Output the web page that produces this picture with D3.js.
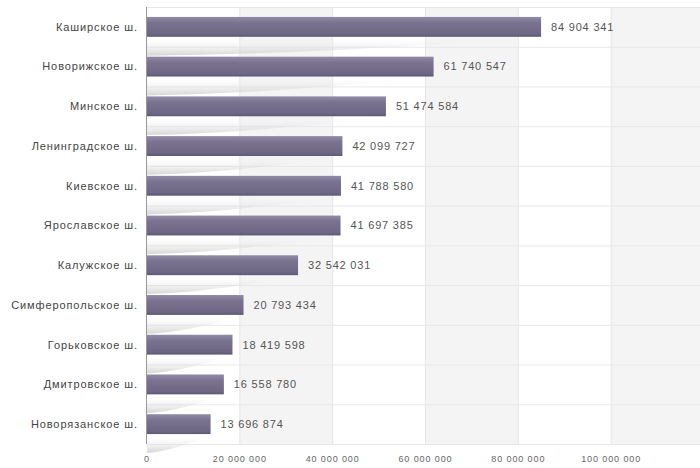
<!DOCTYPE html>
<html>
<head>
<meta charset="utf-8">
<script src="https://cdn.jsdelivr.net/npm/d3@7"></script>
<style>
  body { margin: 0; background: #fff; }
  svg { display: block; font-family: "Liberation Sans", Arial, sans-serif; }
</style>
</head>
<body>
<div id="plot"></div>
<script>
const categories = ["Каширское ш.", "Новорижское ш.", "Минское ш.", "Ленинградское ш.", "Киевское ш.",
  "Ярославское ш.", "Калужское ш.", "Симферопольское ш.", "Горьковское ш.", "Дмитровское ш.", "Новорязанское ш."];
const values = [84904341, 61740547, 51474584, 42099727, 41788580, 41697385, 32542031, 20793434, 18419598, 16558780, 13696874];
const ticks = [0, 20000000, 40000000, 60000000, 80000000, 100000000];

const w = 700, h = 468;
const margin = {top: 7, left: 147, bottom: 24};
const fmt = d3.formatLocale({decimal: ",", thousands: " ", grouping: [3], currency: ["", ""]}).format(",d");

const x = d3.scaleLinear().domain([0, 120000000]).range([margin.left, margin.left + 557]);
const y = d3.scaleBand().domain(categories).range([margin.top, h - margin.bottom]).paddingInner(0.5).paddingOuter(0.25);
const rows = d3.scaleBand().domain(categories).range([margin.top, h - margin.bottom]);

const svg = d3.select("#plot").append("svg").attr("width", w).attr("height", h);
const defs = svg.append("defs");

const barGrad = defs.append("linearGradient").attr("id", "bar").attr("x1", 0).attr("x2", 0).attr("y1", 0).attr("y2", 1);
barGrad.append("stop").attr("offset", "0%").attr("stop-color", "#908ba6");
barGrad.append("stop").attr("offset", "30%").attr("stop-color", "#79738f");
barGrad.append("stop").attr("offset", "85%").attr("stop-color", "#6e6886");
barGrad.append("stop").attr("offset", "100%").attr("stop-color", "#5c5772");

const shGrad = defs.append("linearGradient").attr("id", "shadow").attr("x1", 0).attr("x2", 0).attr("y1", 0).attr("y2", 1);
shGrad.append("stop").attr("offset", "0%").attr("stop-color", "#ffffff").attr("stop-opacity", 0);
shGrad.append("stop").attr("offset", "100%").attr("stop-color", "#c4c4c4").attr("stop-opacity", 0.7);

const plotBottom = h - margin.bottom;

// alternating column bands
svg.append("g").selectAll("rect")
  .data(ticks.map((t, i) => i).filter(i => i % 2 == 1))
  .enter().append("rect")
  .attr("x", i => x(ticks[i]))
  .attr("y", margin.top)
  .attr("width", x(20000000) - x(0))
  .attr("height", plotBottom - margin.top)
  .attr("fill", "#f4f4f4");

// vertical grid
svg.append("g").selectAll("line")
  .data(ticks.slice(1))
  .enter().append("line")
  .attr("x1", d => x(d)).attr("x2", d => x(d))
  .attr("y1", margin.top).attr("y2", plotBottom)
  .attr("stroke", "#e6e6e6");

// horizontal grid
svg.append("g").selectAll("line")
  .data(categories)
  .enter().append("line")
  .attr("x1", margin.left).attr("x2", w)
  .attr("y1", d => rows(d) + 0.5).attr("y2", d => rows(d) + 0.5)
  .attr("stroke", "#e8e8e8");
svg.append("line")
  .attr("x1", margin.left).attr("x2", w)
  .attr("y1", plotBottom + 0.5).attr("y2", plotBottom + 0.5)
  .attr("stroke", "#e8e8e8");

// swoosh shadows under the bars
svg.append("g").selectAll("path")
  .data(categories)
  .enter().append("path")
  .attr("d", (d, i) => {
    const x1 = x(values[i]), y0 = y(d) + y.bandwidth();
    const y1 = y0 + y.step() - y.bandwidth() - 1;
    return `M${x1},${y0} L${x(0)},${y0} L${x(0)},${y1} Q${x(0) + (x1 - x(0)) * 0.45},${y1 - 2} ${x1},${y0} Z`;
  })
  .attr("fill", "url(#shadow)");

// bars
svg.append("g").selectAll("rect")
  .data(categories)
  .enter().append("rect")
  .attr("x", x(0))
  .attr("y", d => y(d))
  .attr("width", (d, i) => x(values[i]) - x(0))
  .attr("height", y.bandwidth())
  .attr("fill", "url(#bar)");

// value labels
svg.append("g").selectAll("text")
  .data(categories)
  .enter().append("text")
  .attr("x", (d, i) => x(values[i]) + 10)
  .attr("y", d => y(d) + y.bandwidth() / 2)
  .attr("dy", "0.35em")
  .attr("font-size", 11)
  .attr("letter-spacing", 0.8)
  .attr("fill", "#555")
  .text((d, i) => fmt(values[i]));

// category labels
svg.append("g").selectAll("text")
  .data(categories)
  .enter().append("text")
  .attr("x", margin.left - 9)
  .attr("y", d => y(d) + y.bandwidth() / 2)
  .attr("dy", "0.35em")
  .attr("text-anchor", "end")
  .attr("font-size", 11)
  .attr("letter-spacing", 0.9)
  .attr("fill", "#444")
  .text(d => d);

// axis line
svg.append("line")
  .attr("x1", x(0) - 0.5).attr("x2", x(0) - 0.5)
  .attr("y1", margin.top).attr("y2", plotBottom)
  .attr("stroke", "#999");

// x tick labels
svg.append("g").selectAll("text")
  .data(ticks)
  .enter().append("text")
  .attr("x", d => x(d))
  .attr("y", h - 6)
  .attr("text-anchor", "middle")
  .attr("font-size", 9)
  .attr("letter-spacing", 0.9)
  .attr("fill", "#666")
  .text(d => fmt(d));
</script>
</body>
</html>
